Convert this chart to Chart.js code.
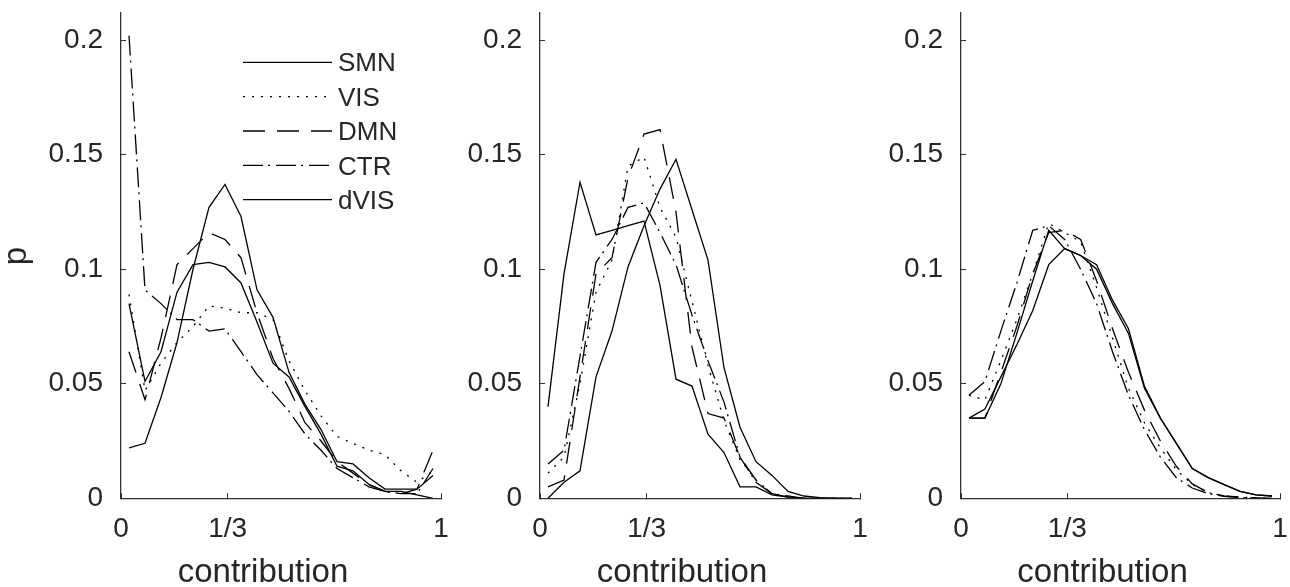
<!DOCTYPE html>
<html>
<head>
<meta charset="utf-8">
<script src="https://cdn.jsdelivr.net/npm/chart.js@4.4.1/dist/chart.umd.min.js"></script>
<style>
  body { margin: 0; background: #fff; }
  #wrap { position: relative; width: 1290px; height: 587px; overflow: hidden; }
  canvas { position: absolute; top: 0; }
</style>
</head>
<body>
<div id="wrap">
  <canvas id="c1" width="460" height="587" style="left:0px"></canvas>
  <canvas id="c2" width="415" height="587" style="left:460px"></canvas>
  <canvas id="c3" width="415" height="587" style="left:875px"></canvas>
</div>
<script>
/* global Chart */
// bin centres on the contribution axis
var binCenters = [0.025, 0.075, 0.125, 0.175, 0.225, 0.275, 0.325, 0.375, 0.425, 0.475,
  0.525, 0.575, 0.625, 0.675, 0.725, 0.775, 0.825, 0.875, 0.925, 0.975]

var seriesNames = ['SMN', 'VIS', 'DMN', 'CTR', 'dVIS']

var xTickValues = [0, 1 / 3, 1]
var xTickLabels = ['0', '1/3', '1']
var yTickValues = [0, 0.05, 0.1, 0.15, 0.2]
var yTickLabels = ['0', '0.05', '0.1', '0.15', '0.2']
var xTitle = 'contribution'
var yTitle = 'p'

// panel 1
var smn1 = [0.022, 0.024, 0.044, 0.068, 0.100, 0.127, 0.137, 0.123, 0.091, 0.079, 0.055, 0.041, 0.030, 0.016, 0.015, 0.009, 0.004, 0.004, 0.004, 0.010]
var vis1 = [0.089, 0.047, 0.059, 0.068, 0.075, 0.084, 0.083, 0.081, 0.081, 0.078, 0.060, 0.047, 0.036, 0.027, 0.024, 0.021, 0.019, 0.012, 0.007, 0.012]
var dmn1 = [0.064, 0.043, 0.070, 0.102, 0.109, 0.116, 0.113, 0.105, 0.081, 0.061, 0.048, 0.033, 0.025, 0.016, 0.011, 0.006, 0.003, 0.002, 0.004, 0.021]
var ctr1 = [0.202, 0.091, 0.085, 0.078, 0.078, 0.073, 0.074, 0.064, 0.054, 0.046, 0.038, 0.028, 0.021, 0.013, 0.009, 0.005, 0.003, 0.002, 0.002, 0.013]
var dvis1 = [0.085, 0.051, 0.064, 0.090, 0.102, 0.103, 0.101, 0.094, 0.077, 0.059, 0.053, 0.040, 0.028, 0.014, 0.012, 0.006, 0.003, 0.003, 0.0015, 0.0]

// panel 2
var smn2 = [0.040, 0.098, 0.138, 0.115, 0.117, 0.119, 0.121, 0.093, 0.052, 0.049, 0.028, 0.020, 0.005, 0.005, 0.0015, 0.0005, 0, 0, 0, 0]
var vis2 = [0.011, 0.018, 0.050, 0.090, 0.104, 0.145, 0.149, 0.127, 0.114, 0.086, 0.058, 0.034, 0.017, 0.008, 0.002, 0.0005, 0, 0, 0, 0]
var dmn2 = [0.005, 0.008, 0.053, 0.098, 0.105, 0.140, 0.159, 0.161, 0.125, 0.066, 0.037, 0.035, 0.018, 0.008, 0.002, 0.0005, 0, 0, 0, 0]
var ctr2 = [0.015, 0.021, 0.062, 0.103, 0.113, 0.127, 0.129, 0.116, 0.102, 0.080, 0.060, 0.042, 0.018, 0.007, 0.002, 0.001, 0, 0, 0, 0]
var dvis2 = [0.0, 0.007, 0.012, 0.053, 0.073, 0.101, 0.119, 0.135, 0.148, 0.126, 0.104, 0.057, 0.031, 0.016, 0.010, 0.003, 0.001, 0.0003, 0, 0]

// panel 3
var smn3 = [0.035, 0.035, 0.050, 0.072, 0.095, 0.117, 0.109, 0.106, 0.100, 0.085, 0.072, 0.048, 0.035, 0.024, 0.013, 0.009, 0.006, 0.003, 0.0015, 0.001]
var vis3 = [0.045, 0.043, 0.060, 0.078, 0.098, 0.120, 0.116, 0.112, 0.092, 0.070, 0.048, 0.033, 0.022, 0.0125, 0.006, 0.0025, 0.001, 0.0005, 0.0002, 0]
var dmn3 = [0.035, 0.035, 0.055, 0.075, 0.098, 0.116, 0.117, 0.113, 0.095, 0.074, 0.055, 0.0385, 0.025, 0.014, 0.0063, 0.0025, 0.001, 0.0005, 0.0002, 0]
var ctr3 = [0.045, 0.051, 0.073, 0.094, 0.117, 0.119, 0.113, 0.100, 0.085, 0.064, 0.045, 0.030, 0.018, 0.009, 0.0045, 0.002, 0.0008, 0.0003, 0, 0]
var dvis3 = [0.035, 0.039, 0.053, 0.067, 0.082, 0.102, 0.109, 0.106, 0.102, 0.0865, 0.074, 0.049, 0.035, 0.024, 0.013, 0.009, 0.006, 0.003, 0.0015, 0.001]

// line styles: solid, dotted, dashed, dash-dot, solid
var seriesDash = [[], [2, 7], [22, 12], [20, 5, 2, 6], []]

var fontFamily = '"Liberation Sans", Arial, Helvetica, sans-serif'
var textColor = '#262626'
var axisColor = '#303030'
Chart.defaults.font.family = fontFamily

// axis titles and the legend, drawn on top of the chart
var textPlugin = {
  id: 'panelText',
  afterDraw: function (chart, args, opts) {
    var ctx = chart.ctx
    var area = chart.chartArea
    ctx.save()
    ctx.fillStyle = textColor
    ctx.font = '33px ' + fontFamily
    ctx.textAlign = 'center'
    ctx.textBaseline = 'alphabetic'
    ctx.fillText(xTitle, (area.left + area.right) / 2 - 18, 582)
    if (opts.ylabel) {
      ctx.save()
      ctx.translate(26, 256)
      ctx.rotate(-Math.PI / 2)
      ctx.fillText(yTitle, 0, 0)
      ctx.restore()
    }
    if (opts.legend) {
      ctx.font = '26px ' + fontFamily
      ctx.textAlign = 'left'
      ctx.textBaseline = 'middle'
      chart.data.datasets.forEach(function (ds, i) {
        var y = 62.3 + i * 34.35
        ctx.strokeStyle = '#000'
        ctx.lineWidth = 1.3
        ctx.setLineDash(ds.borderDash)
        ctx.beginPath()
        ctx.moveTo(243, y)
        ctx.lineTo(332, y)
        ctx.stroke()
        ctx.setLineDash([])
        ctx.fillText(ds.label, 338, y + 2)
      })
    }
    ctx.restore()
  }
}

function makePanel (id, axisWidth, rightPad, values, opts) {
  var datasets = values.map(function (vals, i) {
    return {
      label: seriesNames[i],
      data: vals.map(function (v, k) { return { x: binCenters[k], y: v } }),
      borderColor: '#000',
      borderWidth: 1.3,
      borderDash: seriesDash[i],
      borderCapStyle: 'butt',
      pointRadius: 0,
      fill: false,
      tension: 0
    }
  })
  return new Chart(document.getElementById(id), {
    type: 'line',
    data: { datasets: datasets },
    options: {
      responsive: false,
      animation: false,
      events: [],
      layout: { padding: { top: 12.7, right: rightPad, bottom: 0, left: 0 } },
      plugins: {
        legend: { display: false },
        tooltip: { enabled: false },
        panelText: opts
      },
      scales: {
        x: {
          type: 'linear',
          min: 0,
          max: 1,
          afterFit: function (s) { s.height = 88.7; s.paddingLeft = 0; s.paddingRight = 0 },
          afterBuildTicks: function (s) {
            s.ticks = xTickValues.map(function (v) { return { value: v } })
          },
          grid: { drawOnChartArea: false, drawTicks: true, tickLength: -5, color: axisColor, lineWidth: 1 },
          border: { color: axisColor, width: 1.3 },
          ticks: {
            autoSkip: false,
            maxRotation: 0,
            padding: 19,
            color: textColor,
            font: { size: 28 },
            callback: function (v, i) { return xTickLabels[i] }
          }
        },
        y: {
          type: 'linear',
          min: 0,
          max: 0.212,
          afterFit: function (s) { s.width = axisWidth; s.paddingTop = 0; s.paddingBottom = 0 },
          afterBuildTicks: function (s) {
            s.ticks = yTickValues.map(function (v) { return { value: v } })
          },
          grid: { drawOnChartArea: false, drawTicks: true, tickLength: -5, color: axisColor, lineWidth: 1 },
          border: { color: axisColor, width: 1.3 },
          ticks: {
            padding: 23,
            color: textColor,
            font: { size: 28 },
            callback: function (v, i) { return yTickLabels[i] }
          }
        }
      }
    },
    plugins: [textPlugin]
  })
}

makePanel('c1', 121, 19, [smn1, vis1, dmn1, ctr1, dvis1], { ylabel: true, legend: true })
makePanel('c2', 80, 15, [smn2, vis2, dmn2, ctr2, dvis2], {})
makePanel('c3', 86, 10, [smn3, vis3, dmn3, ctr3, dvis3], {})
</script>
</body>
</html>
